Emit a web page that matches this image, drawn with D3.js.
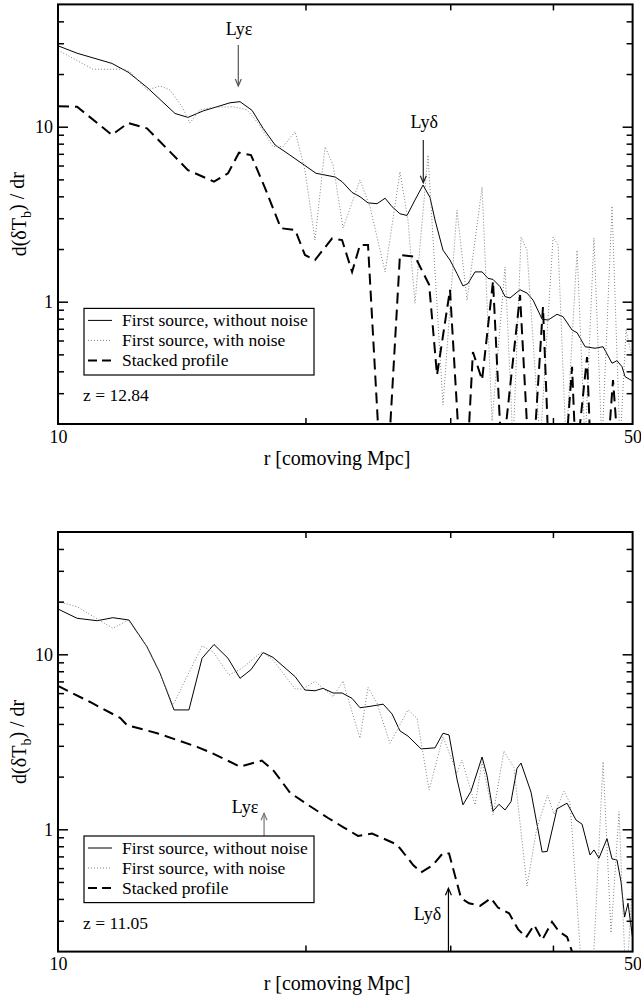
<!DOCTYPE html>
<html>
<head>
<meta charset="utf-8">
<script src="https://cdn.jsdelivr.net/npm/d3@7"></script>
<style>
body { margin: 0; background: #fff; }
svg, svg text { font-family: "Liberation Serif", "DejaVu Serif", "Times New Roman", serif !important; fill: #000; }
</style>
</head>
<body>
<script>
// ---- data: [r (comoving Mpc), d(dTb)/dr] ----
// top panel, z = 12.84
var top_solid = [[10.0,29.0],[10.55,26.3],[11.63,23.0],[12.17,20.5],[12.83,16.8],[13.88,11.9],[14.39,11.3],[15.01,12.3],[15.61,13.0],[16.19,13.7],[16.65,13.9],[17.22,12.4],[17.76,9.8],[18.37,7.86],[19.10,6.94],[20.60,5.42],[21.73,5.16],[22.16,4.85],[22.79,4.21],[23.30,3.98],[23.83,3.67],[24.44,3.63],[25.00,3.90],[25.49,3.49],[26.06,3.18],[26.58,3.11],[27.18,3.81],[27.80,4.64],[28.35,3.94],[28.75,2.93],[29.40,1.97],[29.98,1.73],[30.57,1.45],[31.09,1.23],[31.53,1.27],[32.16,1.48],[32.80,1.48],[33.35,1.36],[33.82,1.34],[34.49,1.22],[34.98,1.07],[35.47,1.05],[36.48,1.17],[37.20,1.12],[37.84,1.02],[38.81,0.793],[39.47,0.786],[40.46,0.847],[41.15,0.821],[42.20,0.689],[42.80,0.665],[43.77,0.553],[45.01,0.542],[46.03,0.553],[47.20,0.445],[47.86,0.460],[48.54,0.425],[48.95,0.373],[50.0,0.352]];
var top_noise = [[10.0,27.4],[11.03,21.3],[12.00,21.3],[12.24,20.6],[12.83,16.2],[13.31,17.1],[13.69,16.2],[14.15,13.0],[14.47,10.5],[14.88,12.5],[15.44,12.9],[16.33,13.0],[16.98,12.5],[17.51,10.5],[18.26,7.69],[18.78,7.69],[19.43,9.39],[19.97,5.65],[20.54,2.25],[21.13,7.66],[21.61,6.04],[22.22,2.64],[23.30,4.96],[23.96,3.49],[25.00,1.48],[26.06,5.53],[26.65,2.93],[27.18,0.98],[28.19,6.89],[29.40,0.257],[30.57,3.34],[31.45,1.02],[32.80,4.52],[33.73,0.208],[34.98,1.58],[35.77,0.15],[36.58,2.34],[37.20,1.97],[38.59,0.15],[40.02,2.34],[40.58,2.11],[41.50,0.15],[42.80,1.97],[43.77,0.15],[44.87,2.31],[45.89,0.15],[47.20,3.52],[48.27,0.15],[49.09,0.689],[50.0,0.465]];
var top_stacked = [[10.0,13.1],[10.55,13.0],[11.63,8.97],[12.17,10.5],[12.83,9.79],[14.39,5.65],[15.48,4.85],[16.10,5.42],[16.60,7.10],[17.17,6.89],[17.86,4.46],[18.67,2.63],[19.43,2.57],[19.97,1.85],[20.54,1.73],[21.55,2.30],[22.16,2.25],[22.79,1.48],[23.30,2.11],[23.83,2.11],[24.65,0.12],[25.21,0.12],[26.06,1.85],[27.18,1.81],[28.28,1.25],[28.91,0.381],[29.98,1.17],[30.85,0.12],[31.45,0.12],[31.97,0.516],[32.80,0.357],[33.82,1.31],[34.67,0.12],[36.48,1.09],[37.41,0.12],[37.84,0.12],[38.90,0.933],[39.57,0.12],[41.38,0.12],[42.20,0.424],[42.67,0.12],[44.01,0.483],[44.50,0.12],[46.54,0.12],[47.33,0.357],[48.14,0.12],[50.0,0.12]];

// bottom panel, z = 11.05
var bot_solid = [[10.0,18.15],[10.55,16.06],[11.16,15.56],[11.66,16.19],[12.20,15.70],[12.83,11.05],[13.31,7.79],[13.84,4.81],[14.43,4.81],[14.97,9.49],[15.48,11.38],[16.10,9.49],[16.65,7.29],[17.17,8.17],[17.76,10.24],[18.26,9.61],[19.43,7.45],[19.97,6.25],[20.54,6.19],[21.01,6.39],[21.61,6.01],[22.16,6.01],[22.79,5.60],[23.30,4.95],[23.96,5.04],[24.86,5.19],[25.49,4.56],[26.06,3.65],[26.65,3.41],[27.65,2.88],[28.75,2.92],[29.40,3.54],[29.90,3.46],[30.57,1.94],[31.09,1.38],[31.80,1.65],[32.80,2.59],[33.26,2.02],[33.82,1.27],[34.39,1.39],[34.98,1.29],[35.57,1.44],[36.17,2.23],[36.58,2.39],[37.62,1.63],[38.81,0.742],[39.36,0.747],[40.46,1.31],[41.61,1.41],[42.67,1.13],[43.40,1.07],[44.38,0.713],[44.87,0.762],[45.50,0.683],[46.54,0.884],[47.20,0.677],[47.86,0.668],[48.41,0.50],[48.89,0.315],[49.36,0.378],[50.0,0.239]];
var bot_noise = [[10.0,19.98],[10.55,18.71],[11.66,14.08],[12.17,15.70],[12.83,11.05],[13.31,7.79],[13.80,5.13],[14.97,11.15],[15.44,10.35],[16.14,7.61],[16.75,8.32],[17.70,10.35],[18.26,9.28],[19.43,6.34],[19.86,6.33],[20.54,7.01],[21.01,6.39],[21.61,5.72],[22.22,7.04],[22.53,5.60],[23.30,3.31],[23.83,6.48],[24.44,5.25],[25.34,3.10],[26.65,4.81],[27.34,4.31],[28.28,1.68],[29.40,3.38],[30.57,2.09],[31.00,2.49],[32.16,1.38],[32.80,2.43],[33.82,1.21],[34.87,2.80],[35.86,2.25],[37.20,0.474],[38.21,1.00],[39.40,1.57],[40.13,1.22],[41.26,1.65],[41.97,1.41],[43.52,0.12],[44.62,0.12],[46.03,2.43],[47.07,0.256],[48.14,1.26],[49.09,0.12],[50.0,0.513]];
var bot_stacked = [[10.0,6.59],[10.94,5.34],[11.90,4.33],[12.13,3.94],[13.20,3.54],[14.76,2.96],[15.39,2.73],[16.65,2.28],[17.70,2.47],[18.31,2.15],[19.15,1.62],[20.09,1.39],[21.31,1.16],[22.22,1.03],[23.17,0.916],[24.10,0.946],[25.63,0.832],[26.06,0.779],[27.04,0.625],[27.65,0.567],[28.58,0.625],[29.40,0.732],[29.90,0.727],[30.92,0.405],[31.62,0.378],[32.62,0.365],[33.63,0.404],[34.29,0.357],[35.38,0.331],[36.27,0.269],[37.10,0.241],[37.95,0.284],[38.81,0.233],[39.90,0.296],[40.69,0.260],[41.61,0.243],[42.20,0.200],[43.18,0.15],[50.0,0.12]];

// arrows: r, start value, tip value, label position
var top_marks = [
  {label:"Lyε", r:16.57, from:29.3, to:17.08, lr:16.6, lv:33.4, color:"#555"},
  {label:"Lyδ", r:27.82, from:8.39, to:4.79, lr:27.9, lv:9.83, color:"#222"}
];
var bot_marks = [
  {label:"Lyε", r:17.81, from:0.916, to:1.234, lr:16.88, lv:1.24, color:"#777"},
  {label:"Lyδ", r:29.85, from:0.2, to:0.46, lr:28.15, lv:0.303, color:"#000"}
];

var legendNames = ["First source, without noise", "First source, with noise", "Stacked profile"];
var xDomain = [10, 50], yDomain = [0.2, 50];
var xTicks = [20, 30, 40];
var yMajor = [1, 10];
var yMinor = [0.3,0.4,0.5,0.6,0.7,0.8,0.9,2,3,4,5,6,7,8,9,20,30,40];

var width = 574.6, height = 419.6, left = 58;
var serif = "'Liberation Serif', 'DejaVu Serif', 'Times New Roman', serif";

var svg = d3.select("body").append("svg").attr("width", 641).attr("height", 999)
  .style("font-family", serif);

var x = d3.scaleLog().domain(xDomain).range([0, width]);
var y = d3.scaleLog().domain(yDomain).range([height, 0]);

var line = d3.line()
  .x(function(d){ return x(d[0]); })
  .y(function(d){ return y(d[1]); });

var styles = [
  {stroke:"#000", width:1, dash:null},
  {stroke:"#808080", width:1, dash:"1,2"},
  {stroke:"#000", width:2, dash:"11,6"}
];

function drawPanel(top, series, marks, zLabel, titleY, id) {
  var g = svg.append("g").attr("transform", "translate(" + left + "," + top + ")");

  g.append("clipPath").attr("id", id).append("rect")
    .attr("width", width).attr("height", height);

  var plot = g.append("g").attr("clip-path", "url(#" + id + ")");
  series.forEach(function(s, i) {
    plot.append("path")
      .attr("d", line(s))
      .attr("fill", "none")
      .attr("stroke", styles[i].stroke)
      .attr("stroke-width", styles[i].width)
      .attr("stroke-dasharray", styles[i].dash);
  });

  // axes, ticks inward
  g.append("g").call(d3.axisLeft(y).tickValues(yMajor).tickSize(-10).tickPadding(5).tickFormat(d3.format("d")));
  g.append("g").call(d3.axisLeft(y).tickValues(yMinor).tickSize(-6).tickFormat(""));
  g.append("g").attr("transform", "translate(" + width + ",0)")
    .call(d3.axisRight(y).tickValues(yMajor).tickSize(-10).tickFormat(""));
  g.append("g").attr("transform", "translate(" + width + ",0)")
    .call(d3.axisRight(y).tickValues(yMinor).tickSize(-6).tickFormat(""));
  g.append("g").attr("transform", "translate(0," + height + ")")
    .call(d3.axisBottom(x).tickValues(xTicks).tickSize(-6).tickFormat(""));
  g.append("g").attr("transform", "translate(0," + height + ")")
    .call(d3.axisBottom(x).tickValues(xDomain).tickSize(0).tickPadding(6).tickFormat(d3.format("d")));
  g.append("g").call(d3.axisTop(x).tickValues(xTicks).tickSize(-6).tickFormat(""));

  g.selectAll(".domain").remove();
  g.selectAll("g").attr("font-family", null);
  g.selectAll(".tick line").attr("stroke", "#000").attr("stroke-width", 1.5);
  g.selectAll(".tick text").style("font-size", "18px").style("font-family", serif);

  g.append("rect").attr("width", width).attr("height", height)
    .attr("fill", "none").attr("stroke", "#000").attr("stroke-width", 2);

  // arrows
  marks.forEach(function(m) {
    var ax = x(m.r), y0 = y(m.from), y1 = y(m.to);
    var s = y1 > y0 ? -1 : 1;
    g.append("line").attr("x1", ax).attr("x2", ax).attr("y1", y0).attr("y2", y1)
      .attr("stroke", m.color).attr("stroke-width", 1.2);
    g.append("path")
      .attr("d", "M" + (ax - 3) + "," + (y1 + s * 7) + "L" + ax + "," + y1 + "L" + (ax + 3) + "," + (y1 + s * 7))
      .attr("fill", "none").attr("stroke", m.color).attr("stroke-width", 1.2);
    g.append("text").attr("x", x(m.lr)).attr("y", y(m.lv))
      .attr("text-anchor", "middle").style("font-size", "18px").text(m.label);
  });

  // legend
  var lg = g.append("g").attr("transform", "translate(26,304)");
  lg.append("rect").attr("width", 230).attr("height", 66.6)
    .attr("fill", "#fff").attr("stroke", "#000").attr("stroke-width", 1.2);
  legendNames.forEach(function(name, i) {
    var ly = 12 + i * 20;
    lg.append("line").attr("x1", 4).attr("x2", 28).attr("y1", ly).attr("y2", ly)
      .attr("stroke", styles[i].stroke).attr("stroke-width", styles[i].width)
      .attr("stroke-dasharray", i == 2 ? "9,5" : styles[i].dash);
    lg.append("text").attr("x", 38).attr("y", ly + 5.6)
      .style("font-size", "17.5px").text(name);
  });

  g.append("text").attr("x", 25).attr("y", 397)
    .style("font-size", "17.5px").text(zLabel);

  // axis titles
  g.append("text").attr("x", 279).attr("y", titleY)
    .attr("text-anchor", "middle").style("font-size", "20px").text("r [comoving Mpc]");

  var yt = g.append("text")
    .attr("transform", "translate(" + (26 - left) + "," + (height / 2) + ")rotate(-90)")
    .attr("text-anchor", "middle").style("font-size", "20px");
  yt.append("tspan").text("d(δT");
  yt.append("tspan").attr("dy", "0.35em").style("font-size", "14px").text("b");
  yt.append("tspan").attr("dy", "-0.35em").text(") / dr");
}

drawPanel(4.4, [top_solid, top_noise, top_stacked], top_marks, "z = 12.84", 461, "clip1");
drawPanel(532, [bot_solid, bot_noise, bot_stacked], bot_marks, "z = 11.05", 458, "clip2");
</script>
</body>
</html>
